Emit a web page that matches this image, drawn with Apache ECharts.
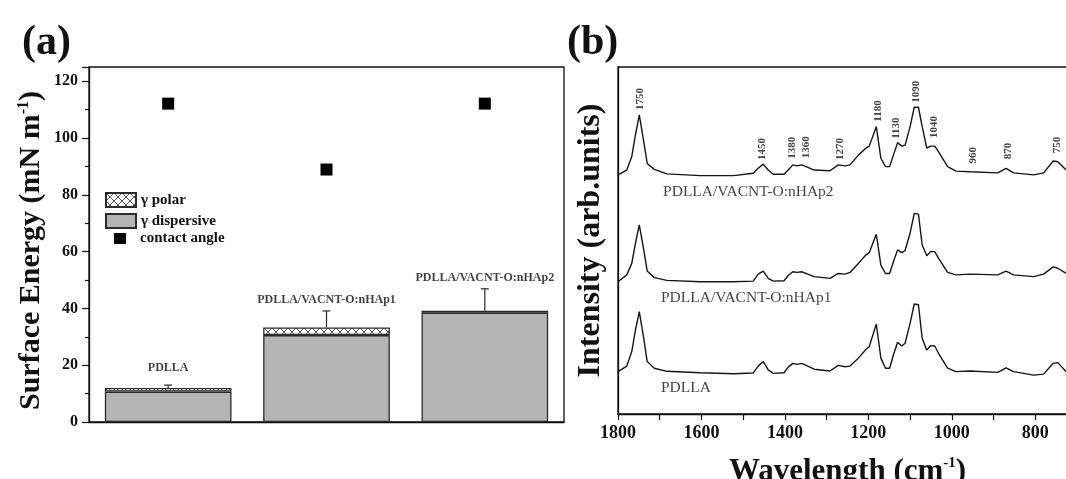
<!DOCTYPE html>
<html>
<head>
<meta charset="utf-8">
<script src="https://cdn.jsdelivr.net/npm/echarts@6/dist/echarts.min.js"></script>
<style>
html,body{margin:0;padding:0;background:#fff;overflow:hidden;}
#chart{width:1077px;height:479px;}
</style>
</head>
<body>
<div id="chart"></div>
<script>
// ---------- Panel (a) data ----------
const categories = ['PDLLA', 'PDLLA/VACNT-O:nHAp1', 'PDLLA/VACNT-O:nHAp2'];
const dispersive = [10.7, 30.6, 38.5];
const polar = [1.3, 2.7, 0.7];
const errPlus = [1.0, 5.8, 7.7];
const contactAngle = [112.1, 88.9, 112.1];
const barLabelY = [18.9, 43.0, 50.7];

// ---------- Panel (b) data ----------
const wave = [1800,1779,1767,1759,1749,1739,1730,1713,1683,1603,1523,1476,1464,1452,1440,1428,1402,1392,1381,1371,1360,1345,1330,1292,1272,1256,1244,1224,1206,1198,1181,1170,1159,1149,1140,1130,1120,1112,1100,1090,1080,1071,1060,1051,1041,1032,1010,990,956,890,870,852,804,780,757,746,726];
const intNHAp2 = [68.9,70.3,74.2,79.9,86.2,79.0,72.2,70.5,69.2,68.7,68.7,69.4,70.8,72.0,70.3,69.1,69.1,70.3,71.8,71.5,71.8,71.1,70.3,70.1,71.8,71.5,71.8,74.6,76.6,77.2,82.8,73.7,71.3,71.3,74.6,78.2,77.2,77.5,82.8,88.4,88.4,82.8,76.6,77.2,77.2,75.6,71.3,70.0,69.8,69.5,70.8,69.5,68.9,69.5,72.9,72.7,70.3];
const intNHAp1 = [38.1,40.1,43.4,48.7,54.5,47.8,41.2,39.3,38.5,38.1,38.1,38.3,40.3,41.2,39.1,38.3,38.4,39.9,41.0,40.8,41.0,40.3,39.6,39.1,40.5,40.3,40.8,43.4,45.8,46.5,51.8,42.9,40.5,40.5,43.9,47.3,46.5,47.1,52.1,57.8,57.6,48.7,45.6,46.8,46.8,44.9,40.8,40.1,40.3,40.1,41.2,40.1,39.6,40.3,42.4,42.0,40.5];
const intPDLLA = [12.2,13.8,18.0,23.7,29.5,22.3,15.1,13.2,12.3,11.9,11.6,11.8,13.8,15.1,12.7,11.7,11.9,13.5,14.6,14.3,14.6,13.8,12.9,12.4,14.0,13.6,13.8,16.1,18.6,19.4,25.9,16.1,13.2,13.2,17.0,20.7,19.6,20.4,26.1,31.7,31.5,21.8,18.4,19.7,19.6,17.5,13.2,12.2,12.4,12.0,13.3,12.2,11.2,11.5,14.6,14.8,12.2];
const peakText = ['1750','1450','1380','1360','1270','1180','1130','1090','1040','960','870','750'];
const peakLabelX = [1746,1455,1383,1350,1268,1176,1133,1085,1042,949,865,747];
const peakLabelY = [90.8,76.4,76.7,76.9,76.4,87.3,82.4,92.9,82.7,74.6,75.8,77.5];
const sampleNames = ['PDLLA/VACNT-O:nHAp2', 'PDLLA/VACNT-O:nHAp1', 'PDLLA'];
const sampleLabelX = [1692, 1697, 1697];
const sampleLabelY = [64.0, 33.4, 7.5];

// ---------- styles ----------
const SERIF = '"Liberation Serif", "DejaVu Serif", serif';
const INK = '#111';
const GRAY = '#b4b4b4';

function hatchPattern() {
  const c = document.createElement('canvas');
  c.width = 8; c.height = 8;
  const g = c.getContext('2d');
  g.fillStyle = '#fff'; g.fillRect(0, 0, 8, 8);
  g.strokeStyle = '#444'; g.lineWidth = 0.9;
  g.beginPath();
  g.moveTo(0, 0); g.lineTo(8, 8);
  g.moveTo(8, 0); g.lineTo(0, 8);
  g.stroke();
  return c;
}

const chart = echarts.init(document.getElementById('chart'), null, {renderer: 'canvas'});

const totals = dispersive.map((d, i) => d + polar[i]);
const legendText = {fontFamily: SERIF, fontWeight: 'bold', fontSize: 15, color: INK};

const option = {
  animation: false,
  backgroundColor: '#fff',
  title: [
    {text: '(a)', left: 22, top: 22, padding: 0, textStyle: {fontFamily: SERIF, fontWeight: 'bold', fontSize: 42, color: INK}},
    {text: '(b)', left: 567, top: 22, padding: 0, textStyle: {fontFamily: SERIF, fontWeight: 'bold', fontSize: 42, color: INK}}
  ],
  legend: [
    {
      data: [{name: 'γ polar', icon: 'rect'}, {name: 'γ dispersive', icon: 'rect'}],
      orient: 'vertical', left: 105, top: 192, padding: 0,
      itemWidth: 30, itemHeight: 14, itemGap: 5,
      textStyle: legendText, selectedMode: false
    },
    {
      data: [{name: 'contact angle', icon: 'rect'}],
      orient: 'vertical', left: 114, top: 231, padding: 0,
      itemWidth: 12, itemHeight: 11,
      textStyle: Object.assign({padding: [0, 0, 0, 9]}, legendText), selectedMode: false
    }
  ],
  grid: [
    {left: 89, top: 67, width: 475, bottom: 57, outerBoundsMode: 'none', containLabel: false,
      show: true, borderColor: INK, borderWidth: 1.3, backgroundColor: 'transparent'},
    {left: 618, top: 67, right: 0, bottom: 65, outerBoundsMode: 'none', containLabel: false,
      show: true, borderColor: INK, borderWidth: 1.3, backgroundColor: 'transparent'}
  ],
  xAxis: [
    {
      gridIndex: 0, type: 'category', data: categories,
      axisLine: {lineStyle: {color: INK, width: 1.3}},
      axisTick: {show: false}, axisLabel: {show: false}, splitLine: {show: false}
    },
    {
      gridIndex: 1, type: 'value', min: 700, max: 1800, interval: 100, inverse: true,
      axisLine: {onZero: false, lineStyle: {color: INK, width: 1.3}},
      axisTick: {show: true, length: 6, inside: false, lineStyle: {color: INK, width: 1.2}},
      axisLabel: {
        margin: 10, fontFamily: SERIF, fontWeight: 'bold', fontSize: 18, color: INK,
        formatter: v => (v % 200 === 0 ? String(v) : '')
      },
      splitLine: {show: false},
      name: 'Wavelength (cm{sup|-1})', nameLocation: 'middle', nameGap: 42,
      nameTextStyle: {
        fontFamily: SERIF, fontWeight: 'bold', fontSize: 31, color: INK,
        rich: {sup: {fontFamily: SERIF, fontWeight: 'bold', fontSize: 15, color: INK, verticalAlign: 'top'}}
      }
    }
  ],
  yAxis: [
    {
      gridIndex: 0, type: 'value', min: 0, max: 125, interval: 20,
      axisLine: {show: true, lineStyle: {color: INK, width: 1.3}},
      axisTick: {show: true, length: 7, lineStyle: {color: INK, width: 1.2}},
      minorTick: {show: true, splitNumber: 2, length: 4, lineStyle: {color: INK, width: 1.2}},
      axisLabel: {margin: 11, fontFamily: SERIF, fontWeight: 'bold', fontSize: 16, color: INK,
        formatter: v => (v > 120 ? '' : String(v))},
      splitLine: {show: false},
      name: 'Surface Energy (mN m{sup|-1})', nameLocation: 'middle', nameGap: 43, nameRotate: 90,
      nameTextStyle: {
        fontFamily: SERIF, fontWeight: 'bold', fontSize: 30, color: INK, padding: [0, 12, 0, 0],
        rich: {sup: {fontFamily: SERIF, fontWeight: 'bold', fontSize: 16, color: INK, verticalAlign: 'top'}}
      }
    },
    {
      gridIndex: 1, type: 'value', min: 0, max: 100,
      axisLine: {show: true, lineStyle: {color: INK, width: 1.3}},
      axisTick: {show: false}, axisLabel: {show: false}, splitLine: {show: false},
      name: 'Intensity (arb.units)', nameLocation: 'middle', nameGap: 11, nameRotate: 90,
      nameTextStyle: {fontFamily: SERIF, fontWeight: 'bold', fontSize: 32, color: INK}
    }
  ],
  series: [
    {
      name: 'γ dispersive', type: 'bar', stack: 'se', xAxisIndex: 0, yAxisIndex: 0,
      barWidth: '80%', data: dispersive,
      itemStyle: {color: GRAY, borderColor: '#2a2a2a', borderWidth: 1.3}
    },
    {
      name: 'γ polar', type: 'bar', stack: 'se', xAxisIndex: 0, yAxisIndex: 0,
      barWidth: '80%', data: polar,
      itemStyle: {color: {image: hatchPattern(), repeat: 'repeat'}, borderColor: '#2a2a2a', borderWidth: 1.3}
    },
    {
      name: 'error', type: 'custom', xAxisIndex: 0, yAxisIndex: 0, z: 5,
      data: totals.map((t, i) => [i, t, errPlus[i]]),
      renderItem: function (params, api) {
        const base = api.coord([api.value(0), api.value(1)]);
        const top = api.coord([api.value(0), api.value(1) + api.value(2)]);
        const hw = 4;
        return {
          type: 'group',
          children: [
            {type: 'line', shape: {x1: base[0], y1: base[1], x2: top[0], y2: top[1]}, style: {stroke: '#2a2a2a', lineWidth: 1.2}},
            {type: 'line', shape: {x1: top[0] - hw, y1: top[1], x2: top[0] + hw, y2: top[1]}, style: {stroke: '#2a2a2a', lineWidth: 1.2}}
          ]
        };
      }
    },
    {
      name: 'contact angle', type: 'scatter', xAxisIndex: 0, yAxisIndex: 0, z: 6,
      symbol: 'rect', symbolSize: 12,
      data: contactAngle,
      itemStyle: {color: '#000', opacity: 1}
    },
    {
      name: 'bar labels', type: 'scatter', xAxisIndex: 0, yAxisIndex: 0, symbolSize: 0, silent: true,
      data: barLabelY.map((y, i) => ({value: [i, y], name: categories[i]})),
      label: {show: true, position: 'inside', formatter: p => p.name,
        fontFamily: SERIF, fontWeight: 'bold', fontSize: 12, color: INK}
    },
    {
      name: 'PDLLA/VACNT-O:nHAp2 spectrum', type: 'line', xAxisIndex: 1, yAxisIndex: 1,
      data: wave.map((w, i) => [w, intNHAp2[i]]), showSymbol: false, smooth: false,
      lineStyle: {color: '#151515', width: 1.4}
    },
    {
      name: 'PDLLA/VACNT-O:nHAp1 spectrum', type: 'line', xAxisIndex: 1, yAxisIndex: 1,
      data: wave.map((w, i) => [w, intNHAp1[i]]), showSymbol: false, smooth: false,
      lineStyle: {color: '#151515', width: 1.4}
    },
    {
      name: 'PDLLA spectrum', type: 'line', xAxisIndex: 1, yAxisIndex: 1,
      data: wave.map((w, i) => [w, intPDLLA[i]]), showSymbol: false, smooth: false,
      lineStyle: {color: '#151515', width: 1.4}
    },
    {
      name: 'peak labels', type: 'scatter', xAxisIndex: 1, yAxisIndex: 1, symbolSize: 0, silent: true,
      data: peakText.map((t, i) => ({value: [peakLabelX[i], peakLabelY[i]], name: t})),
      label: {show: true, position: 'inside', rotate: 90, formatter: p => p.name,
        fontFamily: SERIF, fontWeight: 'bold', fontSize: 11, color: INK}
    },
    {
      name: 'sample labels', type: 'scatter', xAxisIndex: 1, yAxisIndex: 1, symbolSize: 0, silent: true,
      data: sampleNames.map((t, i) => ({value: [sampleLabelX[i], sampleLabelY[i]], name: t})),
      label: {show: true, position: 'right', distance: 0, formatter: p => p.name,
        fontFamily: SERIF, fontSize: 15.5, color: INK}
    }
  ]
};
chart.setOption(option);
</script>
</body>
</html>
